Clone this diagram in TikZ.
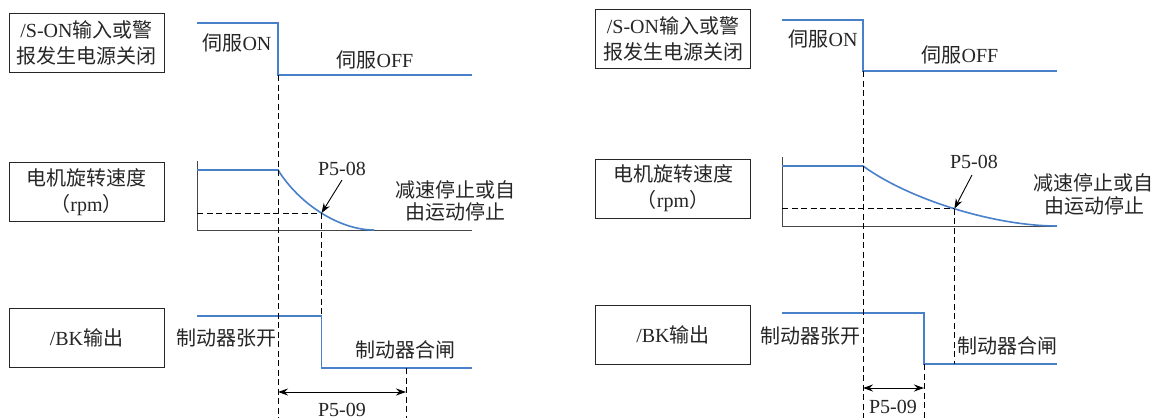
\documentclass[tikz,border=0pt]{standalone}
\usepackage{fontspec}
\setmainfont{Liberation Serif}
\newfontfamily\cjk{Noto Sans CJK SC}
\usetikzlibrary{arrows.meta}
\definecolor{sigblue}{RGB}{72,128,202}
\definecolor{axisgray}{RGB}{70,70,70}
\newcommand\zh[1]{{\cjk #1}}
\begin{document}
\begin{tikzpicture}[x=1pt,y=-1pt,
  lbl/.style={font=\fontsize{20}{24}\selectfont, inner sep=0pt, text=black!85},
  box/.style={draw=black!85, line width=1pt, minimum width=155pt, minimum height=59pt,
              align=center, font=\fontsize{20}{26}\selectfont, inner sep=0pt, text=black!85},
  sig/.style={draw=sigblue, line width=1.6pt},
  axis/.style={draw=axisgray, line width=1pt},
  guide/.style={draw=black, line width=0.9pt, dash pattern=on 6pt off 3.5pt},
  pointer/.style={draw=black, line width=0.9pt, -{Stealth[length=10pt,width=7pt]}},
  span/.style={draw=black, line width=1pt, {Stealth[length=10pt,width=7pt]}-{Stealth[length=10pt,width=7pt]}}]

\useasboundingbox[fill=white] (0,0) rectangle (1159,418);

% ================= LEFT =================
\node[box] (L1) at (86.5,43) {/S-ON\zh{输入或警}\\\zh{报发生电源关闭}};
\node[box] (L2) at (86.5,192) {\zh{电机旋转速度}\\\zh{（}rpm\zh{）}};
\node[box] (L3) at (86.5,338) {/BK\zh{输出}};

% servo signal
\coordinate (LsA) at (197,23);
\coordinate (LsB) at (278,23);
\coordinate (LsC) at (278,75);
\coordinate (LsD) at (472,75);
\draw[sig] (LsA) -- (LsB) -- (LsC) -- (LsD);
\node[lbl] (LsOn) at (237,43) {\zh{伺服}ON};
\node[lbl] (LsOff) at (375,60) {\zh{伺服}OFF};

% speed
\coordinate (LaT) at (197,161);
\coordinate (LaO) at (197,230);
\coordinate (LaE) at (472,230);
\draw[axis] (LaT) -- (LaO) -- (LaE);
\coordinate (LvA) at (197,170);
\coordinate (LvB) at (278,170);
\coordinate (LvE) at (374,230);
\draw[sig] (LvA) -- (LvB) .. controls (300,205) and (340,230) .. coordinate[pos=0.5] (LvM) (LvE);
\draw[guide] (LaO |- LvM) -- (LvM);
\node[lbl] (LP8) at (342,169) {P5-08};
\coordinate (LP8s) at (342,180);
\draw[pointer] (LP8s) -- (LvM);
\node[lbl] (LDec1) at (455,190) {\zh{减速停止或自}};
\node[lbl] (LDec2) at (455,212) {\zh{由运动停止}};

% brake
\coordinate (LbA) at (197,316);
\coordinate (LbD) at (472,368);
\coordinate (LbB) at (LvM |- LbA);
\coordinate (LbC) at (LvM |- LbD);
\draw[sig] (LbA) -- (LbB) -- (LbC) -- (LbD);
\node[lbl] (LbOpen) at (226,338) {\zh{制动器张开}};
\node[lbl] (LbClose) at (405,350) {\zh{制动器合闸}};

% guides
\coordinate (Lg1) at (LsC |- 0,418);
\coordinate (Lg3a) at (406,368);
\coordinate (Lg3b) at (406,418);
\draw[guide] (LsC) -- (Lg1);
\draw[guide] (LvM) -- (LbB);
\draw[guide] (Lg3a) -- (Lg3b);
\coordinate (LspA) at (LsC |- 0,392);
\coordinate (LspB) at (Lg3a |- 0,392);
\draw[span] (LspA) -- (LspB);
\node[lbl] (LP9) at (342,410) {P5-09};

% ================= RIGHT =================
\node[box] (R1) at (673,39) {/S-ON\zh{输入或警}\\\zh{报发生电源关闭}};
\node[box] (R2) at (673,188.5) {\zh{电机旋转速度}\\\zh{（}rpm\zh{）}};
\node[box] (R3) at (673,334.5) {/BK\zh{输出}};

\coordinate (RsA) at (782,20);
\coordinate (RsB) at (863,20);
\coordinate (RsC) at (863,71);
\coordinate (RsD) at (1057,71);
\draw[sig] (RsA) -- (RsB) -- (RsC) -- (RsD);
\node[lbl] (RsOn) at (823,39) {\zh{伺服}ON};
\node[lbl] (RsOff) at (960,55) {\zh{伺服}OFF};

\coordinate (RaT) at (782,157);
\coordinate (RaO) at (782,226);
\coordinate (RaE) at (1057,226);
\draw[axis] (RaT) -- (RaO) -- (RaE);
\coordinate (RvA) at (782,166);
\coordinate (RvB) at (863,166);
\coordinate (RvE) at (1057,226);
\draw[sig] (RvA) -- (RvB) .. controls (910,200) and (995,226) .. coordinate[pos=0.5] (RvM) (RvE);
\draw[guide] (RaO |- RvM) -- (RvM);
\node[lbl] (RP8) at (974,162) {P5-08};
\coordinate (RP8s) at (972,175);
\draw[pointer] (RP8s) -- (RvM);
\node[lbl] (RDec1) at (1093,183) {\zh{减速停止或自}};
\node[lbl] (RDec2) at (1094,206) {\zh{由运动停止}};

\coordinate (RbA) at (782,313);
\coordinate (RbB) at (924,313);
\coordinate (RbC) at (924,364);
\coordinate (RbD) at (1057,364);
\draw[sig] (RbA) -- (RbB) -- (RbC) -- (RbD);
\node[lbl] (RbOpen) at (810,336) {\zh{制动器张开}};
\node[lbl] (RbClose) at (1007,346) {\zh{制动器合闸}};

\coordinate (Rg1) at (RsC |- 0,418);
\coordinate (Rg2) at (RvM |- RbC);
\coordinate (Rg3) at (RbC |- 0,418);
\draw[guide] (RsC) -- (Rg1);
\draw[guide] (RvM) -- (Rg2);
\draw[guide] (RbC) -- (Rg3);
\coordinate (RspA) at (RsC |- 0,388);
\coordinate (RspB) at (RbC |- 0,388);
\draw[span] (RspA) -- (RspB);
\node[lbl] (RP9) at (893,407) {P5-09};
\end{tikzpicture}
\end{document}
